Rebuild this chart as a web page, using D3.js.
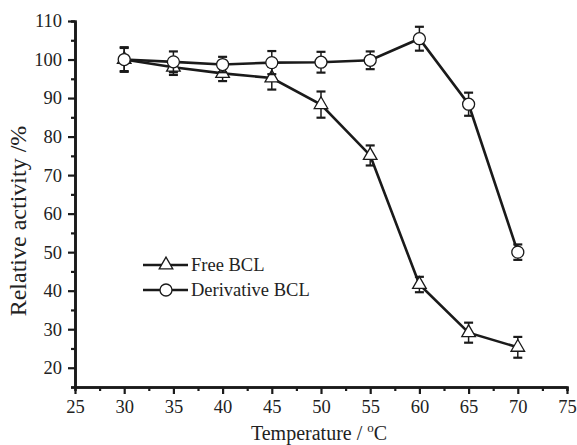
<!DOCTYPE html>
<html>
<head>
<meta charset="utf-8">
<script src="https://cdn.jsdelivr.net/npm/d3@7"></script>
<style>
  body { margin: 0; background: #fff; }
</style>
</head>
<body>
<div id="chart"></div>
<script>
// data
var temps = [30, 35, 40, 45, 50, 55, 60, 65, 70];
var freeBCL = [100, 98, 96.4, 95.2, 88.3, 75.1, 41.6, 29.1, 25.3];
var freeErr = [3, 2, 2, 3, 3.4, 2.6, 2, 2.6, 2.7];
var derivBCL = [100, 99.4, 98.7, 99.2, 99.3, 99.8, 105.4, 88.4, 50];
var derivErr = [3.2, 2.7, 2, 3, 2.7, 2.3, 3.1, 3, 2];
var xTicks = [25, 30, 35, 40, 45, 50, 55, 60, 65, 70, 75];
var yTicks = [20, 30, 40, 50, 60, 70, 80, 90, 100, 110];

var serif = "'Liberation Serif', 'Times New Roman', Tinos";

//set the dimensions and margins of the graph
var margin = {top: 21, right: 10, bottom: 58, left: 75},
    width = 567 - margin.left,
    height = 387 - margin.top;

var svg = d3.select("#chart").append("svg")
    .attr("width", 577)
    .attr("height", 445)
    .append("g")
    .attr("transform", "translate(" + margin.left + "," + margin.top + ")");

var x = d3.scaleLinear().domain([25, 75]).range([0, width]);
var y = d3.scaleLinear().domain([15, 110]).range([height, 0]);

// minor ticks first
var xMinor = d3.range(27.5, 75, 5);
var yMinor = d3.range(15, 110, 10);

svg.append("g")
    .attr("class", "axis")
    .attr("transform", "translate(0," + height + ")")
    .call(d3.axisBottom(x).tickValues(xMinor).tickSize(4).tickFormat(""));

svg.append("g")
    .attr("class", "axis")
    .call(d3.axisLeft(y).tickValues(yMinor).tickSize(4).tickFormat(""));

svg.append("g")
    .attr("class", "axis")
    .attr("transform", "translate(0," + height + ")")
    .call(d3.axisBottom(x).tickValues(xTicks).tickSize(7).tickSizeOuter(0).tickPadding(6));

svg.append("g")
    .attr("class", "axis")
    .call(d3.axisLeft(y).tickValues(yTicks).tickSize(7).tickSizeOuter(0).tickPadding(6));

svg.selectAll(".axis path, .axis line")
    .attr("stroke", "#1a1a1a")
    .attr("stroke-width", 2.2);
svg.selectAll(".axis path").attr("stroke-width", 2.6);
svg.selectAll(".axis text")
    .style("font-family", serif)
    .style("font-size", "18.5px")
    .attr("fill", "#222");

// axis titles
svg.append("text")
    .attr("transform", "translate(" + (-49) + "," + (y(62.5) + 17) + ") rotate(-90)")
    .attr("text-anchor", "middle")
    .style("font-family", serif)
    .style("font-size", "24px")
    .attr("fill", "#222")
    .text("Relative activity /%");

var xt = svg.append("text")
    .attr("x", x(50) - 2)
    .attr("y", height + 53)
    .attr("text-anchor", "middle")
    .style("font-family", serif)
    .style("font-size", "20px")
    .attr("fill", "#222");
xt.append("tspan").text("Temperature / ");
xt.append("tspan").style("font-size", "13px").attr("dy", -8).text("o");
xt.append("tspan").attr("dy", 8).text("C");

var line = d3.line()
    .x(function(d, i) { return x(temps[i]); })
    .y(function(d) { return y(d); });

var tri = d3.symbol().type(d3.symbolTriangle).size(80);

function drawSeries(vals, errs, marker) {
    svg.append("path")
        .datum(vals)
        .attr("fill", "none")
        .attr("stroke", "#1a1a1a")
        .attr("stroke-width", 2.6)
        .attr("d", line);

    var eb = svg.append("g").selectAll("g")
        .data(vals)
        .enter().append("g")
        .attr("stroke", "#1a1a1a");
    eb.append("line")
        .attr("x1", function(d, i) { return x(temps[i]); })
        .attr("x2", function(d, i) { return x(temps[i]); })
        .attr("y1", function(d, i) { return y(d + errs[i]); })
        .attr("y2", function(d, i) { return y(d - errs[i]); })
        .attr("stroke-width", 1.5);
    [1, -1].forEach(function(s) {
        eb.append("line")
            .attr("x1", function(d, i) { return x(temps[i]) - 4.5; })
            .attr("x2", function(d, i) { return x(temps[i]) + 4.5; })
            .attr("y1", function(d, i) { return y(d + s * errs[i]); })
            .attr("y2", function(d, i) { return y(d + s * errs[i]); })
            .attr("stroke-width", 2.2);
    });

    if (marker === "circle") {
        svg.append("g").selectAll("circle")
            .data(vals)
            .enter().append("circle")
            .attr("cx", function(d, i) { return x(temps[i]); })
            .attr("cy", function(d) { return y(d); })
            .attr("r", 6)
            .attr("fill", "#fff")
            .attr("stroke", "#1a1a1a")
            .attr("stroke-width", 1.3);
    } else {
        svg.append("g").selectAll("path")
            .data(vals)
            .enter().append("path")
            .attr("transform", function(d, i) { return "translate(" + x(temps[i]) + "," + y(d) + ")"; })
            .attr("d", tri)
            .attr("fill", "#fff")
            .attr("stroke", "#1a1a1a")
            .attr("stroke-width", 1.3);
    }
}

drawSeries(freeBCL, freeErr, "triangle");
drawSeries(derivBCL, derivErr, "circle");

// legend
var legend = [
    {name: "Free BCL", marker: "triangle"},
    {name: "Derivative BCL", marker: "circle"}
];
var lg = svg.append("g").selectAll("g")
    .data(legend)
    .enter().append("g")
    .attr("transform", function(d, i) { return "translate(" + (143 - margin.left) + "," + (265 - margin.top + i * 25) + ")"; });
lg.append("line")
    .attr("x1", 0).attr("x2", 45)
    .attr("stroke", "#1a1a1a")
    .attr("stroke-width", 2.6);
lg.each(function(d) {
    var g = d3.select(this);
    if (d.marker === "circle") {
        g.append("circle").attr("cx", 23).attr("r", 6)
            .attr("fill", "#fff").attr("stroke", "#1a1a1a").attr("stroke-width", 1.3);
    } else {
        g.append("path").attr("transform", "translate(23,0)").attr("d", tri)
            .attr("fill", "#fff").attr("stroke", "#1a1a1a").attr("stroke-width", 1.3);
    }
});
lg.append("text")
    .attr("x", 48)
    .attr("y", 6)
    .style("font-family", serif)
    .style("font-size", "18.5px")
    .attr("fill", "#222")
    .text(function(d) { return d.name; });
</script>
</body>
</html>
